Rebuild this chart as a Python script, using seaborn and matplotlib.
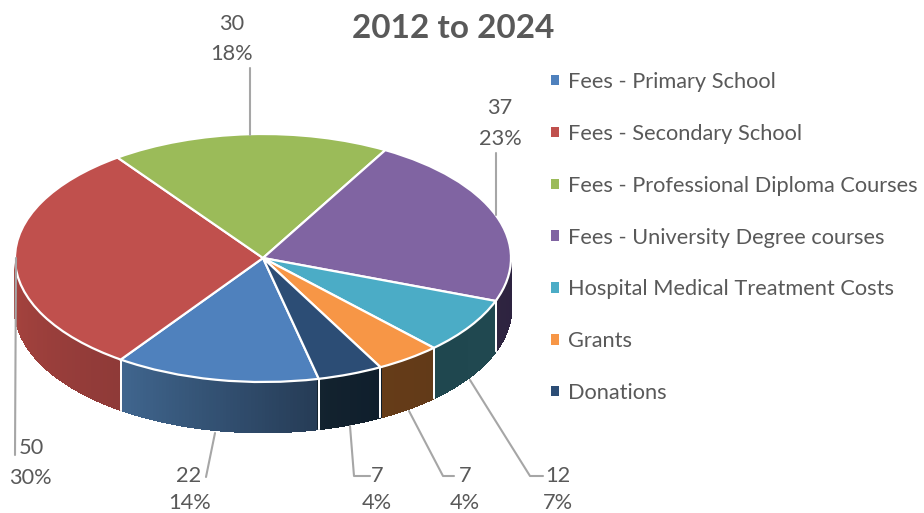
import numpy as np
import matplotlib
matplotlib.use("Agg")
import matplotlib.pyplot as plt
from matplotlib.collections import PolyCollection
from matplotlib.colors import to_rgb
from matplotlib.patches import Patch
import seaborn as sns

categories = ["Fees - Primary School", "Fees - Secondary School",
              "Fees - Professional Diploma Courses", "Fees - University Degree courses",
              "Hospital Medical Treatment Costs", "Grants", "Donations"]
values = [22, 50, 30, 37, 12, 7, 7]
percents = ["14%", "30%", "18%", "23%", "7%", "4%", "4%"]
top_colors = ["#4f81bd", "#c0504d", "#9bbb59", "#8064a2", "#4bacc6", "#f79646", "#2c4d75"]
wall_left = ["#40668f", "#a8443f", "#9bbb59", "#2f2440", "#1f474f", "#663c18", "#13232f"]
wall_right = ["#263c56", "#8f3a38", "#9bbb59", "#2d2340", "#204850", "#623a18", "#0f1e2c"]
label_pos = [(189, 476, 190, 503), (31, 448, 30, 478), (232, 24, 232, 54), (500, 108, 500, 139),
             (558, 476, 558, 503), (465, 476, 465, 503), (377, 476, 377, 503)]
leaders = [([215, 206], [433, 477]), ([16, 15], [258, 455]), ([250, 250], [68, 135]),
           ([496, 496], [153, 215]), ([470, 530, 543], [380, 476, 476]),
           ([409, 443, 454], [411, 476, 476]), ([350, 354, 370], [426, 476, 476])]

sns.set_theme(style="white")
plt.rcParams["font.family"] = ["Lato", "DejaVu Sans"]
TEXT = "#595959"
FS = 15.7

W, H, CX, CY, RX, RY, DEPTH = 924, 513, 263, 258, 248, 124, 50
fig = plt.figure(figsize=(W / 100, H / 100), dpi=100)
ax = fig.add_axes([0, 0, 1, 1])
wedges, _ = ax.pie(values, colors=top_colors, startangle=-77, counterclock=False,
                   wedgeprops=dict(edgecolor="white", linewidth=1.6, zorder=5))
ax.set_aspect("auto")
ax.set_xlim(-CX / RX, (W - CX) / RX)
ax.set_ylim(-(H - CY) / RY, CY / RY)
ax.axis("off")
d = DEPTH / RY

# side wall, following the angles that the pie computed
for w, cl, cr in zip(wedges, wall_left, wall_right):
    t1, t2 = w.theta1 % 360, w.theta2 % 360
    if t2 <= t1:
        t2 += 360
    ranges = [(max(t1, 180), min(t2, 360)), (max(t1, 540), min(t2, 720))]
    for a, b in ranges:
        if b <= a:
            continue
        th = np.radians(np.linspace(a, b, 60))
        x, y = np.cos(th), np.sin(th)
        polys, cols = [], []
        for i in range(len(th) - 1):
            polys.append([(x[i], y[i]), (x[i + 1], y[i + 1]), (x[i + 1], y[i + 1] - d), (x[i], y[i] - d)])
            f = i / (len(th) - 2)
            cols.append(np.array(to_rgb(cl)) * (1 - f) + np.array(to_rgb(cr)) * f)
        ax.add_collection(PolyCollection(polys, facecolors=cols, edgecolors=cols, linewidths=1.2,
                                         antialiased=False, zorder=2))
        for k in (th[0], th[-1]):
            if 181 < np.degrees(k) % 360 < 359:
                ax.plot([np.cos(k)] * 2, [np.sin(k), np.sin(k) - d], color="white", lw=1.4, zorder=3)

# overlay in pixel units for labels, leader lines and legend
ov = fig.add_axes([0, 0, 1, 1], facecolor="none")
ov.set_xlim(0, W)
ov.set_ylim(H, 0)
ov.axis("off")
for (lx, ly) in leaders:
    ov.plot(lx, ly, color="#a6a6a6", lw=1.5, zorder=1)
for v, p, (x1, y1, x2, y2) in zip(values, percents, label_pos):
    ov.text(x1, y1, str(v), ha="center", va="center", fontsize=FS, color=TEXT)
    ov.text(x2, y2, p, ha="center", va="center", fontsize=FS, color=TEXT)
ov.text(453, 28, "2012 to 2024", ha="center", va="center", fontsize=24, fontweight="bold", color=TEXT)
handles = [Patch(facecolor=c, edgecolor="none") for c in top_colors]
ov.legend(handles, categories, loc="upper left", bbox_to_anchor=(551, 72),
          bbox_transform=ov.transData, frameon=False, fontsize=FS,
          labelcolor=TEXT, handlelength=0.37, handleheight=0.37, handletextpad=0.41,
          labelspacing=1.46, borderpad=0, borderaxespad=0)
fig.savefig("out.png", dpi=100)
